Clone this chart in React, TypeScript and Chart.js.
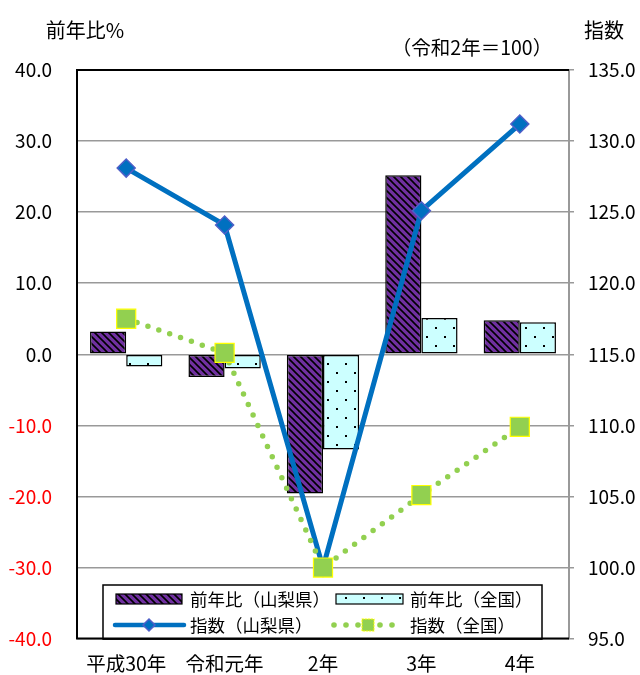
import React, { useEffect, useRef } from 'react';
import { Chart, registerables } from 'chart.js';

Chart.register(...registerables);

const categories = ['平成30年', '令和元年', '2年', '3年', '4年'];
const yoyYamanashi = [3.2, -3.2, -19.6, 25.2, 4.8];
const yoyNational = [-1.7, -2.0, -13.4, 5.1, 4.5];
const indexYamanashi = [128.1, 124.1, 100.0, 125.1, 131.2];
const indexNational = [117.5, 115.1, 100.0, 105.1, 109.9];
const seriesLabels = ['前年比（山梨県）', '前年比（全国）', '指数（山梨県）', '指数（全国）'];
const leftTitle = '前年比%';
const rightTitle = '指数';
const baseNote = '（令和2年＝100）';

const FONT = '"Noto Sans CJK JP", "Noto Sans", sans-serif';
const PURPLE = '#7030A0';
const CYAN = '#CCFFFF';
const BLUE = '#0070C0';
const GREEN = '#92D050';

function makeStripe(): CanvasPattern | string {
  const s = 7;
  const c = document.createElement('canvas');
  c.width = s; c.height = s;
  const g = c.getContext('2d');
  if (!g) return PURPLE;
  g.fillStyle = PURPLE;
  g.fillRect(0, 0, s, s);
  g.strokeStyle = '#000';
  g.lineWidth = 1.6;
  g.beginPath();
  g.moveTo(-1, -1); g.lineTo(s + 1, s + 1);
  g.moveTo(-1, s - 1); g.lineTo(1, s + 1);
  g.moveTo(s - 1, -1); g.lineTo(s + 1, 1);
  g.stroke();
  return g.createPattern(c, 'repeat') || PURPLE;
}

function makeDots(): CanvasPattern | string {
  const s = 18;
  const c = document.createElement('canvas');
  c.width = s; c.height = s;
  const g = c.getContext('2d');
  if (!g) return CYAN;
  g.fillStyle = CYAN;
  g.fillRect(0, 0, s, s);
  g.fillStyle = '#000';
  g.fillRect(3, 3, 2, 2);
  g.fillRect(12, 12, 2, 2);
  return g.createPattern(c, 'repeat') || CYAN;
}

export default function App() {
  const ref = useRef<HTMLCanvasElement | null>(null);

  useEffect(() => {
    if (!ref.current) return;
    const stripe = makeStripe();
    const dots = makeDots();

    const overlay = {
      id: 'overlay',
      afterDraw(chart: any) {
        const ctx = chart.ctx as CanvasRenderingContext2D;
        const a = chart.chartArea;
        ctx.save();
        // frame
        ctx.lineCap = 'butt';
        ctx.strokeStyle = '#000';
        ctx.lineWidth = 2;
        ctx.beginPath();
        ctx.moveTo(a.left, a.bottom);
        ctx.lineTo(a.left, a.top);
        ctx.lineTo(a.right, a.top);
        ctx.moveTo(a.left - 1, a.bottom);
        ctx.lineTo(a.right, a.bottom);
        ctx.stroke();

        // titles
        ctx.fillStyle = '#000';
        ctx.textBaseline = 'middle';
        ctx.textAlign = 'center';
        ctx.font = `20px ${FONT}`;
        ctx.fillText(leftTitle, 85, 30);
        ctx.fillText(rightTitle, 604, 30);
        ctx.font = `19.5px ${FONT}`;
        ctx.fillText(baseNote, 472, 48);

        // legend box
        const lx = 103, ly = 585, lw = 439, lh = 54;
        ctx.fillStyle = '#fff';
        ctx.fillRect(lx, ly, lw, lh);
        ctx.strokeStyle = '#000';
        ctx.lineWidth = 1.5;
        ctx.strokeRect(lx, ly, lw, lh);
        ctx.beginPath();
        ctx.lineWidth = 2;
        ctx.moveTo(lx, a.bottom);
        ctx.lineTo(lx + lw, a.bottom);
        ctx.stroke();

        const r1 = 599, r2 = 625;
        // swatch 1
        ctx.fillStyle = stripe as any;
        ctx.fillRect(116, r1 - 5, 66, 10);
        ctx.lineWidth = 1.2;
        ctx.strokeStyle = '#000';
        ctx.strokeRect(116, r1 - 5, 66, 10);
        // swatch 2
        ctx.fillStyle = dots as any;
        ctx.fillRect(336, r1 - 5, 67, 10);
        ctx.strokeRect(336, r1 - 5, 67, 10);
        // line 1
        ctx.strokeStyle = BLUE;
        ctx.lineWidth = 4.5;
        ctx.lineCap = 'round';
        ctx.beginPath();
        ctx.moveTo(115, r2); ctx.lineTo(184, r2);
        ctx.stroke();
        ctx.fillStyle = BLUE;
        ctx.strokeStyle = '#4F5FC8';
        ctx.lineWidth = 1.5;
        ctx.beginPath();
        ctx.moveTo(149 - 6, r2); ctx.lineTo(149, r2 - 6); ctx.lineTo(149 + 6, r2); ctx.lineTo(149, r2 + 6);
        ctx.closePath();
        ctx.fill(); ctx.stroke();
        // line 2 (dots)
        ctx.fillStyle = GREEN;
        [334, 346, 358, 380, 392].forEach((x) => {
          ctx.beginPath();
          ctx.arc(x, r2, 2.8, 0, Math.PI * 2);
          ctx.fill();
        });
        ctx.fillRect(362, r2 - 6, 12, 12);
        ctx.strokeStyle = '#FFFF00';
        ctx.lineWidth = 1;
        ctx.setLineDash([1.5, 1.5]);
        ctx.strokeRect(362, r2 - 6, 12, 12);
        ctx.setLineDash([]);

        // legend text
        ctx.fillStyle = '#000';
        ctx.font = `17.5px ${FONT}`;
        ctx.textAlign = 'left';
        ctx.textBaseline = 'middle';
        ctx.fillText(seriesLabels[0], 190, r1);
        ctx.fillText(seriesLabels[1], 410, r1);
        ctx.fillText(seriesLabels[2], 190, r2);
        ctx.fillText(seriesLabels[3], 410, r2);
        ctx.restore();
      },
    };

    const chart = new Chart(ref.current, {
      type: 'bar',
      data: {
        labels: categories,
        datasets: [
          {
            type: 'bar',
            label: seriesLabels[0],
            data: yoyYamanashi,
            backgroundColor: stripe as any,
            borderColor: '#000',
            borderWidth: 1.5,
            borderSkipped: false,
            yAxisID: 'y',
            order: 2,
            categoryPercentage: 0.735,
            barPercentage: 1,
          },
          {
            type: 'bar',
            label: seriesLabels[1],
            data: yoyNational,
            backgroundColor: dots as any,
            borderColor: '#000',
            borderWidth: 1.5,
            borderSkipped: false,
            yAxisID: 'y',
            order: 2,
            categoryPercentage: 0.735,
            barPercentage: 1,
          },
          {
            type: 'line',
            label: seriesLabels[2],
            data: indexYamanashi,
            borderColor: BLUE,
            borderWidth: 5,
            pointStyle: 'rectRot',
            pointRadius: 9,
            pointBackgroundColor: BLUE,
            pointBorderColor: '#4F5FC8',
            pointBorderWidth: 1.5,
            yAxisID: 'y1',
            order: 1,
          } as any,
          {
            type: 'line',
            label: seriesLabels[3],
            data: indexNational,
            borderColor: GREEN,
            borderWidth: 5.5,
            borderDash: [0, 11.5],
            borderCapStyle: 'round',
            pointStyle: 'rect',
            pointRadius: 13.5,
            pointBackgroundColor: GREEN,
            pointBorderColor: '#FFFF00',
            pointBorderWidth: 1.2,
            yAxisID: 'y1',
            order: 0,
          } as any,
        ],
      },
      options: {
        responsive: true,
        maintainAspectRatio: false,
        animation: false,
        layout: { padding: { top: 70, left: 0, right: 0, bottom: 0 } },
        plugins: {
          legend: { display: false },
          tooltip: { enabled: false },
        },
        scales: {
          x: {
            grid: { display: false, drawTicks: false },
            border: { display: false },
            ticks: { color: '#000', font: { family: FONT, size: 19.5 }, padding: 13, maxRotation: 0 },
            afterFit: (s: any) => { s.height = 36; },
          },
          y: {
            position: 'left',
            min: -40,
            max: 40,
            ticks: {
              stepSize: 10,
              padding: 25,
              font: { family: FONT, size: 19 },
              color: (c: any) => (c.tick && c.tick.value < 0 ? '#FF0000' : '#000'),
              callback: (v: any) => Number(v).toFixed(1),
            },
            grid: { color: '#999', lineWidth: 1.5, drawTicks: false },
            border: { display: false },
            afterFit: (s: any) => { s.width = 77; },
          },
          y1: {
            position: 'right',
            min: 95,
            max: 135,
            ticks: {
              stepSize: 5,
              padding: 14,
              font: { family: FONT, size: 19 },
              color: '#000',
              callback: (v: any) => Number(v).toFixed(1),
            },
            grid: { drawOnChartArea: false, drawTicks: true, tickLength: 5, color: '#999', lineWidth: 1.5 },
            border: { color: '#999', width: 2 },
            afterFit: (s: any) => { s.width = 71; },
          },
        },
      },
      plugins: [overlay],
    } as any);

    return () => chart.destroy();
  }, []);

  return (
    <div style={{ position: 'fixed', left: 0, top: 0, width: 640, height: 675, background: '#fff' }}>
      <canvas ref={ref} />
    </div>
  );
}
